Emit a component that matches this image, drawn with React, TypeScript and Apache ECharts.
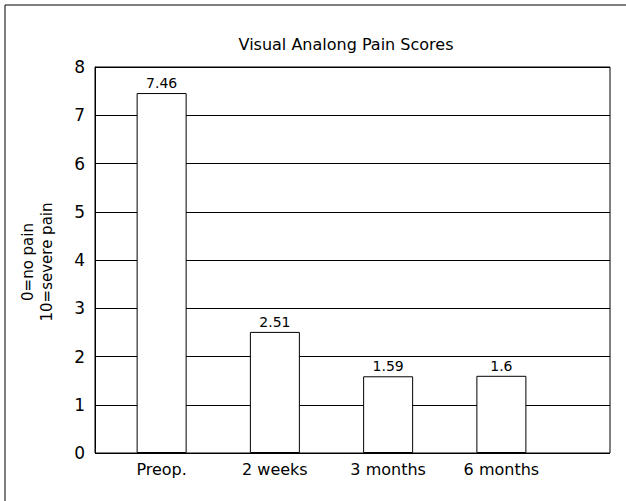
import React, { useEffect, useRef } from "react";
import * as echarts from "echarts";

const categories = ["Preop.", "2 weeks", "3 months", "6 months"];
const painScores = [7.46, 2.51, 1.59, 1.6];
const titleText = "Visual Analong Pain Scores";
const yNameLines = ["0=no pain", "10=severe pain"];
const yMin = 0;
const yMax = 8;
const yInterval = 1;

const FONT = "DejaVu Sans";

export default function App() {
  const ref = useRef<HTMLDivElement>(null);
  useEffect(() => {
    if (!ref.current) return;
    const chart = echarts.init(ref.current, undefined, { renderer: "svg" });
    chart.setOption({
      animation: false,
      backgroundColor: "#fff",
      textStyle: { fontFamily: FONT, color: "#000" },
      title: {
        text: titleText,
        left: 341,
        top: 31,
        textAlign: "center",
        textStyle: { fontFamily: FONT, fontSize: 16, fontWeight: "normal", color: "#000" },
      },
      grid: [
        { left: 95, top: 67, width: 515, height: 386, show: true, borderColor: "#000", borderWidth: 1, backgroundColor: "transparent" },
        { left: 105, top: 67, width: 453, height: 386 },
      ],
      xAxis: [
        { gridIndex: 0, type: "value", show: false, min: 0, max: 1 },
        {
          gridIndex: 1,
          type: "category",
          data: categories,
          axisLine: { show: false },
          axisTick: { show: false },
          axisLabel: { fontFamily: FONT, fontSize: 16, color: "#000", margin: 8 },
        },
      ],
      yAxis: [
        {
          gridIndex: 0,
          type: "value",
          min: yMin,
          max: yMax,
          interval: yInterval,
          axisLine: { show: true, lineStyle: { color: "#000", width: 1 } },
          axisTick: { show: false },
          splitLine: { show: true, lineStyle: { color: "#000", width: 1 } },
          axisLabel: { fontFamily: FONT, fontSize: 17, color: "#000", margin: 10 },
        },
        { gridIndex: 1, type: "value", min: yMin, max: yMax, interval: yInterval, show: false, splitLine: { show: false } },
      ],
      graphic: [
        { type: "line", shape: { x1: 5, y1: 5, x2: 626, y2: 5 }, style: { stroke: "#000", lineWidth: 1 } },
        { type: "line", shape: { x1: 5, y1: 5, x2: 5, y2: 501 }, style: { stroke: "#000", lineWidth: 1 } },
        {
          type: "text",
          x: 37,
          y: 262,
          rotation: Math.PI / 2,
          style: {
            text: yNameLines.join("\n"),
            fontFamily: FONT,
            fontSize: 15,
            fill: "#000",
            align: "center",
            verticalAlign: "middle",
            lineHeight: 19,
          },
        },
      ],
      series: [
        {
          type: "bar",
          xAxisIndex: 1,
          yAxisIndex: 1,
          data: painScores,
          barWidth: 50,
          itemStyle: { color: "#fff", borderColor: "#000", borderWidth: 1 },
          label: { show: true, position: "top", distance: 3, fontFamily: FONT, fontSize: 14, color: "#000" },
        },
      ],
    });
    return () => chart.dispose();
  }, []);
  return <div ref={ref} style={{ position: "fixed", left: 0, top: 0, width: 626, height: 501 }} />;
}
